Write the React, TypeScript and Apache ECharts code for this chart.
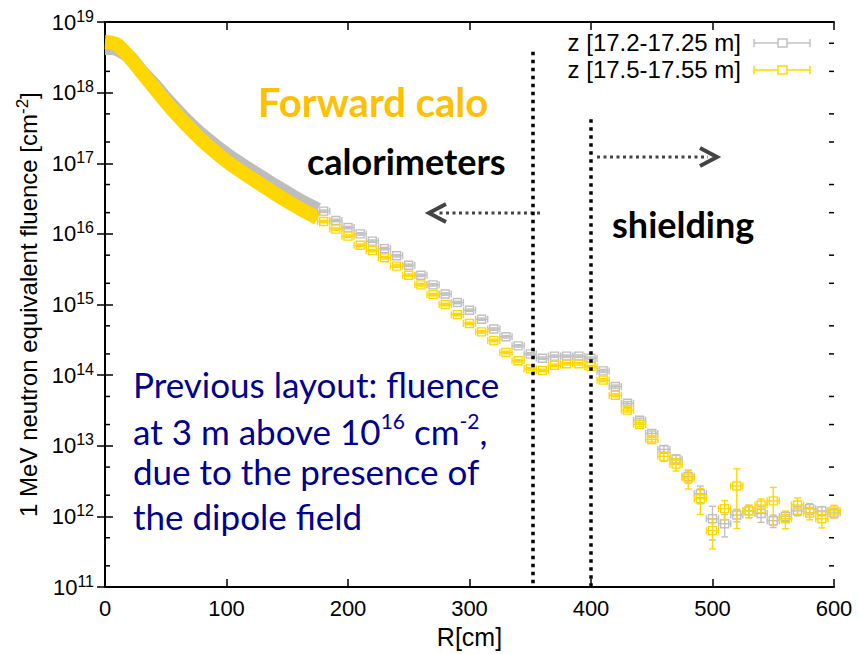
import React, { useEffect, useRef } from "react";
import * as echarts from "echarts";

// ---- data ----
// dense region (markers overlap into a band)
const denseR = [0, 5, 10, 20, 30, 40, 50, 60, 70, 80, 90, 100, 110, 120, 130, 140, 150, 160, 170, 175];
const denseGray = [4.3e18, 4.3e18, 4.1e18, 3.2e18, 2.0e18, 1.32e18, 8.3e17, 5.4e17, 3.6e17, 2.5e17, 1.82e17, 1.35e17, 1.02e17, 7.9e16, 6.2e16, 4.8e16, 3.8e16, 3.0e16, 2.45e16, 2.2e16];
const denseYellow = [5.2e18, 5.1e18, 4.8e18, 3.2e18, 1.95e18, 1.2e18, 7.4e17, 4.7e17, 3.1e17, 2.1e17, 1.48e17, 1.07e17, 8.1e16, 6.2e16, 4.8e16, 3.7e16, 2.9e16, 2.3e16, 1.86e16, 1.66e16];

// binned region
const binR = [180, 190, 200, 210, 220, 230, 240, 250, 260, 270, 280, 290, 300, 310, 320, 330, 340, 350, 360, 370, 380, 390, 400, 410, 420, 430, 440, 450, 460, 470, 480, 490, 500, 510, 520, 530, 540, 550, 560, 570, 580, 590, 600];
const grayVals = [2.1e16, 1.55e16, 1.23e16, 1.0e16, 7.9e15, 6.2e15, 4.9e15, 3.6e15, 2.6e15, 1.9e15, 1.41e15, 1.07e15, 8.3e14, 6.2e14, 4.5e14, 3.5e14, 2.6e14, 2.0e14, 1.74e14, 1.86e14, 1.86e14, 1.86e14, 1.74e14, 1.15e14, 6.9e13, 4.0e13, 2.3e13, 1.5e13, 8.9e12, 6.5e12, 3.7e12, 2.1e12, 9.3e11, 7.9e11, 1.05e12, 1.2e12, 1.1e12, 8.7e11, 1.0e12, 1.2e12, 1.29e12, 1.2e12, 1.12e12];
const yellowVals = [1.5e16, 1.17e16, 9.3e15, 6.9e15, 5.8e15, 4.6e15, 3.5e15, 2.6e15, 1.9e15, 1.38e15, 1.0e15, 7.2e14, 5.4e14, 4.1e14, 3.1e14, 2.1e14, 1.6e14, 1.23e14, 1.17e14, 1.38e14, 1.45e14, 1.45e14, 1.32e14, 8.5e13, 5.2e13, 3.2e13, 2.0e13, 1.23e13, 7.1e12, 5.5e12, 3.5e12, 1.78e12, 6.3e11, 1.29e12, 2.7e12, 1.2e12, 1.45e12, 1.66e12, 9.3e11, 1.45e12, 1.12e12, 9.3e11, 1.2e12];
// relative errors
const grayErr = [0.04, 0.04, 0.04, 0.04, 0.04, 0.04, 0.04, 0.04, 0.04, 0.04, 0.04, 0.04, 0.04, 0.04, 0.04, 0.04, 0.04, 0.04, 0.04, 0.04, 0.04, 0.04, 0.04, 0.05, 0.05, 0.06, 0.07, 0.08, 0.12, 0.15, 0.2, 0.28, 0.5, 0.35, 0.2, 0.2, 0.25, 0.2, 0.15, 0.15, 0.18, 0.15, 0.15];
const yellowErr = [0.04, 0.04, 0.04, 0.04, 0.04, 0.04, 0.04, 0.04, 0.04, 0.04, 0.04, 0.04, 0.04, 0.04, 0.04, 0.04, 0.04, 0.04, 0.04, 0.04, 0.04, 0.04, 0.04, 0.05, 0.05, 0.06, 0.07, 0.08, 0.15, 0.2, 0.3, 0.4, 0.45, 0.3, 0.75, 0.2, 0.22, 0.55, 0.28, 0.26, 0.2, 0.26, 0.2];
const HALF_BIN = 5;

const xMin = 0;
const xMax = 600;
const xInterval = 100;
const yMin = 1e11;
const yMax = 1e19;
const yTickExps = ["11", "12", "13", "14", "15", "16", "17", "18", "19"];
const minorTicks = [2e11, 5e11, 2e12, 5e12, 2e13, 5e13, 2e14, 5e14, 2e15, 5e15, 2e16, 5e16, 2e17, 5e17, 2e18, 5e18];

const boundaryR = [352, 400];
const boundaryTop = [3.8e18, 4.2e17];

const legendLabels = ["z [17.2-17.25 m]", "z [17.5-17.55 m]"];
const GRAY = "#C0C0C0";
const YELLOW = "#FFD700";

const AXIS_FONT = "'Liberation Sans', Arial, Helvetica, sans-serif";
const ANNOT_FONT = "Lato, 'Open Sans', sans-serif";

function errRender(color: string) {
  return (params: any, api: any) => {
    const r = api.value(0);
    const v = api.value(1);
    const e = api.value(2);
    const c = api.coord([r, v]);
    const top = api.coord([r, v * (1 + e)]);
    const bot = api.coord([r, v * (1 - e)]);
    const l = api.coord([r - HALF_BIN, v]);
    const rt = api.coord([r + HALF_BIN, v]);
    const style = { stroke: color, lineWidth: 1.4, fill: "none" };
    const cap = 3.5;
    return {
      type: "group",
      children: [
        { type: "line", shape: { x1: c[0], y1: top[1], x2: c[0], y2: bot[1] }, style },
        { type: "line", shape: { x1: c[0] - cap, y1: top[1], x2: c[0] + cap, y2: top[1] }, style },
        { type: "line", shape: { x1: c[0] - cap, y1: bot[1], x2: c[0] + cap, y2: bot[1] }, style },
        { type: "line", shape: { x1: l[0], y1: c[1], x2: rt[0], y2: c[1] }, style },
        { type: "line", shape: { x1: l[0], y1: c[1] - cap, x2: l[0], y2: c[1] + cap }, style },
        { type: "line", shape: { x1: rt[0], y1: c[1] - cap, x2: rt[0], y2: c[1] + cap }, style },
        { type: "rect", shape: { x: c[0] - 4, y: c[1] - 4, width: 8, height: 8 }, style },
      ],
    };
  };
}

export default function App() {
  const ref = useRef<HTMLDivElement>(null);
  useEffect(() => {
    if (!ref.current) return;
    const chart = echarts.init(ref.current, null, { renderer: "svg" });
    const axisLine = { show: true, lineStyle: { color: "#000", width: 2 } };
    const tick = { show: true, inside: true, length: 8, lineStyle: { color: "#000", width: 1.5 } };
    const option: any = {
      animation: false,
      backgroundColor: "#fff",
      grid: { left: 105, right: 25, top: 22, bottom: 62, containLabel: false },
      xAxis: [
        {
          type: "value",
          min: xMin,
          max: xMax,
          interval: xInterval,
          axisLine,
          axisTick: tick,
          splitLine: { show: false },
          axisLabel: { color: "#000", fontSize: 22, fontFamily: AXIS_FONT, margin: 10 },
          name: "R[cm]",
          nameLocation: "middle",
          nameGap: 32,
          nameTextStyle: { color: "#000", fontSize: 25, fontFamily: AXIS_FONT },
        },
        {
          type: "value",
          position: "top",
          min: xMin,
          max: xMax,
          interval: xInterval,
          axisLine,
          axisTick: tick,
          axisLabel: { show: false },
          splitLine: { show: false },
        },
      ],
      yAxis: [
        {
          type: "log",
          logBase: 10,
          min: yMin,
          max: yMax,
          splitNumber: 8,
          axisLine,
          axisTick: tick,
          splitLine: { show: false },
          axisLabel: {
            color: "#000",
            margin: 11,
            formatter: (v: number) => {
              const idx = Math.round(Math.log10(v)) - 11;
              return `{b|10}{s|${yTickExps[idx]}}`;
            },
            rich: {
              b: { fontSize: 22, fontFamily: AXIS_FONT, color: "#000", lineHeight: 28 },
              s: { fontSize: 16, fontFamily: AXIS_FONT, color: "#000", lineHeight: 12, verticalAlign: "top" },
            },
          },
          name: "{b|1 MeV neutron equivalent fluence [cm}{s|-2}{b|]}",
          nameLocation: "middle",
          nameGap: 50,
          nameRotate: 90,
          nameTextStyle: {
            rich: {
              b: { fontSize: 24, fontFamily: AXIS_FONT, color: "#000", lineHeight: 30 },
              s: { fontSize: 17, fontFamily: AXIS_FONT, color: "#000", lineHeight: 13, verticalAlign: "top" },
            },
          },
        },
        {
          type: "log",
          logBase: 10,
          position: "right",
          min: yMin,
          max: yMax,
          splitNumber: 8,
          axisLine,
          axisTick: tick,
          axisLabel: { show: false },
          splitLine: { show: false },
        },
      ],
      series: [
        {
          type: "line",
          name: legendLabels[0] + " band",
          data: denseR.map((r, i) => [r, denseGray[i]]),
          showSymbol: false,
          symbol: "none",
          smooth: 0.3,
          lineStyle: { color: "#BDBDBD", width: 14, cap: "butt" },
          z: 2,
          markLine: {
            silent: true,
            symbol: "none",
            label: { show: false },
            lineStyle: { color: "#000", width: 3.5, type: [3.5, 4.5] },
            data: boundaryR.map((r, i) => [{ coord: [r, boundaryTop[i]] }, { coord: [r, yMin] }]),
            z: 10,
          },
        },
        {
          type: "line",
          name: legendLabels[1] + " band",
          data: denseR.map((r, i) => [r, denseYellow[i]]),
          showSymbol: false,
          symbol: "none",
          smooth: 0.3,
          lineStyle: { color: YELLOW, width: 14, cap: "butt" },
          z: 3,
        },
        {
          type: "custom",
          name: legendLabels[0],
          data: binR.map((r, i) => [r, grayVals[i], grayErr[i]]),
          renderItem: errRender(GRAY),
          z: 4,
        },
        {
          type: "custom",
          name: legendLabels[1],
          data: binR.map((r, i) => [r, yellowVals[i], yellowErr[i]]),
          renderItem: errRender(YELLOW),
          z: 5,
        },
        {
          type: "custom",
          name: "minor ticks",
          data: minorTicks.map((v) => [xMin, v]),
          renderItem: (params: any, api: any) => {
            const v = api.value(1);
            const l = api.coord([xMin, v]);
            const r = api.coord([xMax, v]);
            const style = { stroke: "#000", lineWidth: 1.5 };
            return {
              type: "group",
              children: [
                { type: "line", shape: { x1: l[0], y1: l[1], x2: l[0] + 5, y2: l[1] }, style },
                { type: "line", shape: { x1: r[0] - 5, y1: r[1], x2: r[0], y2: r[1] }, style },
              ],
            };
          },
          clip: false,
          silent: true,
          z: 1,
        },
      ],
      graphic: [
        // legend
        { type: "text", right: 859 - 741, top: 30, style: { text: legendLabels[0], fontSize: 24, fontFamily: AXIS_FONT, fill: "#000" } },
        { type: "text", right: 859 - 741, top: 57, style: { text: legendLabels[1], fontSize: 24, fontFamily: AXIS_FONT, fill: "#000" } },
        { type: "line", shape: { x1: 754, y1: 43, x2: 810, y2: 43 }, style: { stroke: GRAY, lineWidth: 1.5 } },
        { type: "line", shape: { x1: 754, y1: 39, x2: 754, y2: 47 }, style: { stroke: GRAY, lineWidth: 1.5 } },
        { type: "line", shape: { x1: 810, y1: 39, x2: 810, y2: 47 }, style: { stroke: GRAY, lineWidth: 1.5 } },
        { type: "rect", shape: { x: 778, y: 39, width: 9, height: 8 }, style: { stroke: GRAY, fill: "#fff", lineWidth: 1.5 } },
        { type: "line", shape: { x1: 754, y1: 70, x2: 810, y2: 70 }, style: { stroke: YELLOW, lineWidth: 1.5 } },
        { type: "line", shape: { x1: 754, y1: 66, x2: 754, y2: 74 }, style: { stroke: YELLOW, lineWidth: 1.5 } },
        { type: "line", shape: { x1: 810, y1: 66, x2: 810, y2: 74 }, style: { stroke: YELLOW, lineWidth: 1.5 } },
        { type: "rect", shape: { x: 778, y: 66, width: 9, height: 8 }, style: { stroke: YELLOW, fill: "#fff", lineWidth: 1.5 } },
        // annotations
        { type: "text", left: 258, top: 82, style: { text: "Forward calo", fontSize: 40, fontWeight: "bold", fontFamily: ANNOT_FONT, fill: "#FFC000" } },
        { type: "text", left: 307, top: 143, style: { text: "calorimeters", fontSize: 36, fontWeight: "bold", fontFamily: ANNOT_FONT, fill: "#000" } },
        { type: "text", left: 612, top: 206, style: { text: "shielding", fontSize: 36, fontWeight: "bold", fontFamily: ANNOT_FONT, fill: "#000" } },
        // arrows
        { type: "line", shape: { x1: 540, y1: 213, x2: 436, y2: 213 }, style: { stroke: "#444", lineWidth: 3, lineDash: [3, 3.5] } },
        { type: "polyline", shape: { points: [[446, 204], [429, 213], [446, 222]] }, style: { stroke: "#444", lineWidth: 4, fill: "none" } },
        { type: "line", shape: { x1: 597, y1: 157, x2: 708, y2: 157 }, style: { stroke: "#444", lineWidth: 3, lineDash: [3, 3.5] } },
        { type: "polyline", shape: { points: [[700, 148], [717, 157], [700, 166]] }, style: { stroke: "#444", lineWidth: 4, fill: "none" } },
        // blue note
        { type: "text", left: 133, top: 366, style: { text: "Previous layout: fluence", fontSize: 35, fontFamily: ANNOT_FONT, fill: "#00008F" } },
        {
          type: "text",
          left: 133,
          top: 410,
          style: {
            text: "{b|at 3 m above 10}{s|16}{b| cm}{s|-2}{b|,}",
            rich: {
              b: { fontSize: 35, fontFamily: ANNOT_FONT, fill: "#00008F", lineHeight: 42 },
              s: { fontSize: 21, fontFamily: ANNOT_FONT, fill: "#00008F", lineHeight: 22, verticalAlign: "top" },
            },
          },
        },
        { type: "text", left: 133, top: 453, style: { text: "due to the presence of", fontSize: 35, fontFamily: ANNOT_FONT, fill: "#00008F" } },
        { type: "text", left: 133, top: 498, style: { text: "the dipole field", fontSize: 35, fontFamily: ANNOT_FONT, fill: "#00008F" } },
      ],
    };
    chart.setOption(option);
    return () => chart.dispose();
  }, []);
  return <div ref={ref} style={{ position: "fixed", left: 0, top: 0, width: 859, height: 654 }} />;
}
